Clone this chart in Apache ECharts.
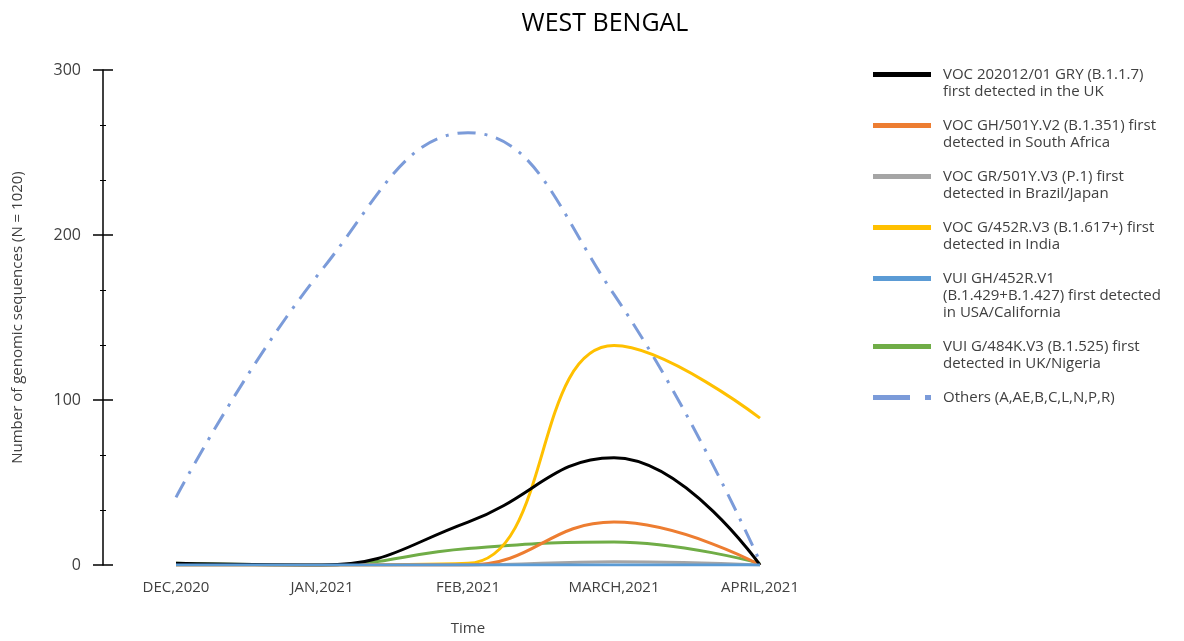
<!DOCTYPE html>
<html>
<head>
<meta charset="utf-8">
<title>West Bengal</title>
<script src="https://cdn.jsdelivr.net/npm/echarts@6/dist/echarts.min.js"></script>
<style>
  html, body { margin: 0; padding: 0; background: #fff; }
  #main { width: 1184px; height: 641px; }
</style>
</head>
<body>
<div id="main"></div>
<script>
// 数据
var months = ['DEC,2020', 'JAN,2021', 'FEB,2021', 'MARCH,2021', 'APRIL,2021'];
var ukB117 = [1, 0, 26, 65, 0];
var saB1351 = [0, 0, 0, 26, 0];
var brazilP1 = [0, 0, 0, 2, 0];
var indiaB1617 = [0, 0, 1, 133, 89];
var usaB1429 = [0, 0, 0, 0, 0];
var nigeriaB1525 = [1, 0, 10, 14, 1];
var others = [41, 179, 262, 164, 2];

var names = [
    'VOC 202012/01 GRY (B.1.1.7)\nfirst detected in the UK',
    'VOC GH/501Y.V2 (B.1.351) first\ndetected in South Africa',
    'VOC GR/501Y.V3 (P.1) first\ndetected in Brazil/Japan',
    'VOC G/452R.V3 (B.1.617+) first\ndetected in India',
    'VUI GH/452R.V1\n(B.1.429+B.1.427) first detected\nin USA/California',
    'VUI G/484K.V3 (B.1.525) first\ndetected in UK/Nigeria',
    'Others (A,AE,B,C,L,N,P,R)'
];
var colors = ['#000000', '#ED7D31', '#A5A5A5', '#FFC000', '#5B9BD5', '#70AD47', '#7B9BD9'];
var values = [ukB117, saB1351, brazilP1, indiaB1617, usaB1429, nigeriaB1525, others];

var textColor = '#404040';
var font = '"Open Sans", "Noto Sans", sans-serif';

function makeSeries(){
    var list = [];
    for (var i = 0; i < names.length; i++) {
        list.push({
            name: names[i],
            type: 'line',
            data: values[i],
            smooth: 0.45,
            symbol: 'none',
            z: i === 6 ? 1 : 10 - i,
            lineStyle: {
                color: colors[i],
                width: 3,
                type: i === 6 ? [18, 9, 3, 9] : 'solid'
            },
            itemStyle: { color: colors[i] }
        });
    }
    // 蓝色放在最上面
    list[4].z = 12;
    return list;
}

// 图例: 图标跟第一行文字对齐, 用 rich text 画
function legendRich(){
    var rich = {
        g: { width: 12 },
        ind: { width: 70 },
        gd: { width: 15, height: 5 },
        d6: { width: 37, height: 5, backgroundColor: colors[6] },
        s6: { width: 6, height: 5, backgroundColor: colors[6] }
    };
    for (var i = 0; i < 6; i++) {
        rich['i' + i] = { width: 58, height: 5, backgroundColor: colors[i] };
    }
    return rich;
}

function legendFormatter(name){
    var idx = names.indexOf(name);
    var lines = name.split('\n');
    var icon = idx === 6 ? '{d6|}{gd|}{s6|}' : '{i' + idx + '|}';
    var out = icon + '{g|}' + lines[0];
    for (var k = 1; k < lines.length; k++) {
        out += '\n{ind|}' + lines[k];
    }
    return out;
}

var myChart = echarts.init(document.getElementById('main'));

myChart.setOption({
    animation: false,
    title: {
        text: 'WEST BENGAL',
        left: 600,
        textAlign: 'center',
        top: 6,
        textStyle: { fontFamily: font, fontSize: 25, fontWeight: 'normal', color: '#000' }
    },
    legend: {
        orient: 'vertical',
        left: 863,
        top: 61,
        icon: 'rect',
        itemWidth: 0,
        itemHeight: 0,
        itemGap: 17,
        formatter: legendFormatter,
        textStyle: {
            fontFamily: font, fontSize: 15, color: textColor, lineHeight: 17,
            rich: legendRich()
        },
        data: names
    },
    grid: { left: 103, right: 351, top: 70, bottom: 74 },
    xAxis: {
        type: 'category',
        data: months,
        boundaryGap: true,
        name: 'Time',
        nameLocation: 'middle',
        nameGap: 56,
        nameTextStyle: { fontFamily: font, fontSize: 15, color: textColor },
        axisLine: { show: false },
        axisTick: { show: false },
        axisLabel: { fontFamily: font, fontSize: 15, color: textColor, margin: 15 }
    },
    yAxis: [{
        type: 'value',
        min: 0,
        max: 300,
        interval: 100,
        name: 'Number of genomic sequences (N = 1020)',
        nameLocation: 'middle',
        nameGap: 78,
        nameTextStyle: { fontFamily: font, fontSize: 15, color: textColor },
        axisLine: { show: true, lineStyle: { color: '#000', width: 1.5 } },
        axisTick: { show: true, length: 10, lineStyle: { color: '#000', width: 1.5 } },
        minorTick: { show: true, splitNumber: 3, length: 3, lineStyle: { color: '#000', width: 1 } },
        splitLine: { show: false },
        axisLabel: { fontFamily: font, fontSize: 16, color: textColor, margin: 22 }
    }, {
        // 轴内侧刻度
        type: 'value',
        position: 'left',
        min: 0,
        max: 300,
        interval: 100,
        axisLine: { show: false },
        axisTick: { show: true, inside: true, length: 10, lineStyle: { color: '#000', width: 1.5 } },
        minorTick: { show: true, splitNumber: 3, length: 3, lineStyle: { color: '#000', width: 1 } },
        splitLine: { show: false },
        axisLabel: { show: false }
    }],
    series: makeSeries()
});
</script>
</body>
</html>
